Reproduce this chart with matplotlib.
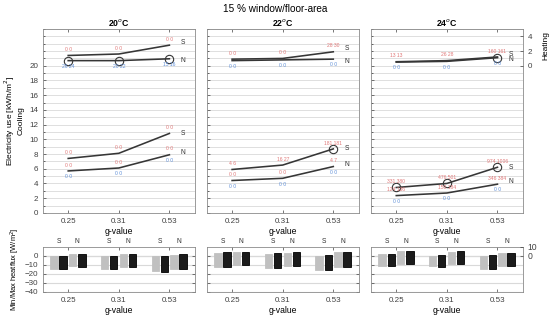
import matplotlib
matplotlib.use("Agg")
import matplotlib.pyplot as plt
import numpy as np

plt.rcParams['font.family'] = ['Liberation Sans', 'DejaVu Sans']

g_labels = ['0.25', '0.31', '0.53']
temps = ['20$^{o}$C', '22$^{o}$C', '24$^{o}$C']

# cooling use, kWh/m2 (per panel: 20, 22, 24 C)
cool_S = [[7.4, 8.1, 10.8], [5.9, 6.5, 8.7], [3.45, 4.0, 6.2]]
cool_N = [[5.7, 6.1, 7.9], [4.4, 4.7, 6.3], [2.35, 2.7, 3.9]]
# heating use, kWh/m2
heat_S = [[1.4, 1.6, 2.8], [0.9, 1.0, 1.9], [0.55, 0.7, 1.2]]
heat_N = [[0.7, 0.7, 0.95], [0.7, 0.8, 0.9], [0.5, 0.6, 1.1]]

# point annotations
cool_S_red = [['0 0', '0 0', '0 0'], ['4 6', '16 27', '181 181'], ['331 380', '476 501', '974 1006']]
cool_N_red = [['0 0', '0 0', '0 0'], ['0 0', '0 0', '4 7'], ['124 136', '150 184', '346 384']]
cool_N_blue = [['0 0', '0 0', '0 0'], ['0 0', '0 0', '0 0'], ['0 0', '0 0', '0 0']]
heat_S_red = [['0 0', '0 0', '0 0'], ['0 0', '0 0', '28 30'], ['13 13', '26 28', '160 161']]
heat_N_blue = [['26 24', '20 22', '15 16'], ['0 0', '0 0', '0 0'], ['0 0', '0 0', '0 0']]
cool_S_circle = [[0, 0, 0], [0, 0, 1], [1, 1, 1]]
heat_N_circle = [[1, 1, 1], [0, 0, 0], [0, 0, 1]]

# min/max heat flux, W/m2
S_light_lo = [[-14, -14, -16.7], [-12.2, -13.3, -15.2], [-10.7, -11.5, -14]]
S_light_hi = [[-0.4, 0, 0], [3.3, 2.6, 0.4], [2.2, 0.4, 0.4]]
S_dark_lo = [[-14.5, -14.8, -17.4], [-12.2, -13.3, -15.9], [-11.1, -12.2, -14.4]]
S_dark_hi = [[0.4, 0.4, 0.4], [4, 3.3, 1.5], [2.2, 1.5, 1.5]]
N_light_lo = [[-11.5, -12.2, -14], [-9.6, -10.7, -12.2], [-8.5, -9.3, -10.7]]
N_light_hi = [[2.6, 1.9, 1.5], [4, 3.3, 4], [5.6, 4.4, 3.3]]
N_dark_lo = [[-12.2, -12.2, -14], [-10.4, -10.7, -12.2], [-8.5, -9.3, -11.1]]
N_dark_hi = [[2.6, 2.2, 2.2], [4.8, 4.4, 4.4], [5.6, 5.6, 3.7]]

RED = '#e07878'
BLUE = '#5f8fd8'
LINE = '#363636'
GRID = '#d9d9d9'
FS = 5.8
LFS = 3.6
SNFS = 4.8

fig = plt.figure(figsize=(5.5, 3.24), dpi=100)
fig.text(0.5, 0.972, '15 % window/floor-area', ha='center', va='center', fontsize=7.2)

lefts = [0.078, 0.376, 0.6745]
w = 0.276
x = np.arange(1, 4)


def style(ax):
    ax.tick_params(direction='in', length=2.5, width=0.5, labelsize=FS, pad=3.5,
                   top=True, right=True, colors='#404040')
    ax.tick_params(which='minor', direction='in', length=1.5, width=0.4,
                   right=True, left=False)
    for s in ax.spines.values():
        s.set_color('#8a8a8a')
        s.set_linewidth(0.6)


for i in range(3):
    ax = fig.add_axes([lefts[i], 0.343, w, 0.5675])
    ax.set_xlim(0.5, 3.5)
    ax.set_ylim(0, 25)
    ax.set_yticks(range(0, 21, 2))
    ax.set_yticks(range(0, 26), minor=True)
    ax.grid(True, which='both', axis='y', color=GRID, lw=0.6)
    ax.set_axisbelow(True)
    ax.set_xticks(x)
    ax.set_xticklabels(g_labels)
    style(ax)
    if i > 0:
        ax.tick_params(labelleft=False)
    else:
        ax.set_ylabel('Electricity use [kWh/m$^2$]\nCooling', fontsize=6, labelpad=3)
    ax.set_xlabel('g-value', fontsize=6.2, labelpad=1.5)
    ax.set_title(temps[i], fontsize=6.3, fontweight='bold', pad=2.5)

    ax.plot(x, cool_S[i], color=LINE, lw=1.15)
    ax.plot(x, cool_N[i], color=LINE, lw=1.15)
    for k in range(3):
        ax.text(x[k], cool_S[i][k] + 0.45, cool_S_red[i][k], color=RED, fontsize=LFS, ha='center', va='bottom')
        ax.text(x[k], cool_N[i][k] + 0.45, cool_N_red[i][k], color=RED, fontsize=LFS, ha='center', va='bottom')
        ax.text(x[k], cool_N[i][k] - 0.45, cool_N_blue[i][k], color=BLUE, fontsize=LFS, ha='center', va='top')
        if cool_S_circle[i][k]:
            ax.plot(x[k], cool_S[i][k], 'o', mfc='none', mec=LINE, ms=6, mew=0.8)
    ax.text(3.22, cool_S[i][2], 'S', fontsize=SNFS, va='center', color='#303030')
    ax.text(3.22, cool_N[i][2] + 0.3, 'N', fontsize=SNFS, va='center', color='#303030')

    hx = ax.twinx()
    hx.set_ylim(-20, 5)
    hx.set_yticks([0, 2, 4])
    hx.tick_params(direction='in', length=2.5, width=0.5, labelsize=FS, pad=3.5, colors='#404040')
    if i < 2:
        hx.tick_params(labelright=False, right=False)
    else:
        hx.set_ylabel('Heating', fontsize=6, labelpad=4)
        hx.yaxis.set_label_coords(1.13, 0.91)
    for s in hx.spines.values():
        s.set_visible(False)
    hx.plot(x, heat_S[i], color=LINE, lw=1.15)
    hx.plot(x, heat_N[i], color=LINE, lw=1.15)
    for k in range(3):
        hx.text(x[k], max(heat_S[i][k], heat_N[i][k]) + 0.45, heat_S_red[i][k], color=RED, fontsize=LFS, ha='center', va='bottom')
        hx.text(x[k], min(heat_S[i][k], heat_N[i][k]) - 0.45, heat_N_blue[i][k], color=BLUE, fontsize=LFS, ha='center', va='top')
        if heat_N_circle[i][k]:
            hx.plot(x[k], heat_N[i][k], 'o', mfc='none', mec=LINE, ms=6, mew=0.8)
    hx.text(3.22, heat_S[i][2] + 0.4, 'S', fontsize=SNFS, va='center', color='#303030')
    hx.text(3.22, heat_N[i][2] - 0.3, 'N', fontsize=SNFS, va='center', color='#303030')

    # heat flux bars
    bx = fig.add_axes([lefts[i], 0.0988, w, 0.139])
    bx.set_xlim(0.5, 3.5)
    bx.set_ylim(-40, 10)
    bx.set_yticks(range(-40, 1, 10))
    bx.grid(True, axis='y', color=GRID, lw=0.8)
    bx.axhline(0, color='#b5b5b5', lw=0.8, zorder=0)
    bx.set_axisbelow(True)
    bx.set_xticks(x)
    bx.set_xticklabels(g_labels)
    style(bx)
    bx.set_xlabel('g-value', fontsize=6.2, labelpad=1.5)
    if i > 0:
        bx.tick_params(labelleft=False)
    else:
        bx.set_ylabel('Min/Max heatflux [W/m$^2$]', fontsize=5.4, labelpad=2)
    bw = 0.145
    los = [S_light_lo, S_dark_lo, N_light_lo, N_dark_lo]
    his = [S_light_hi, S_dark_hi, N_light_hi, N_dark_hi]
    offs = [-0.28, -0.1, 0.09, 0.27]
    cols = ['#c0c0c0', '#1b1b1b', '#c0c0c0', '#1b1b1b']
    ecs = ['#c0c0c0', '#000000', '#c0c0c0', '#000000']
    for lo, hi, o, c, e in zip(los, his, offs, cols, ecs):
        lo_v = np.array(lo[i])
        hi_v = np.array(hi[i])
        bx.bar(x + o, hi_v - lo_v, bottom=lo_v, width=bw, color=c, edgecolor=e, lw=0.6)
    for k in range(3):
        bx.text(x[k] - 0.19, 12, 'S', fontsize=SNFS, ha='center', va='bottom', color='#303030')
        bx.text(x[k] + 0.18, 12, 'N', fontsize=SNFS, ha='center', va='bottom', color='#303030')
    if i == 2:
        rb = bx.twinx()
        rb.set_ylim(-40, 10)
        rb.set_yticks([0, 10])
        rb.tick_params(direction='in', length=2.5, width=0.5, labelsize=FS + 0.4, pad=3.5, colors='#404040')
        for s in rb.spines.values():
            s.set_visible(False)

fig.savefig('out.png', dpi=100)
